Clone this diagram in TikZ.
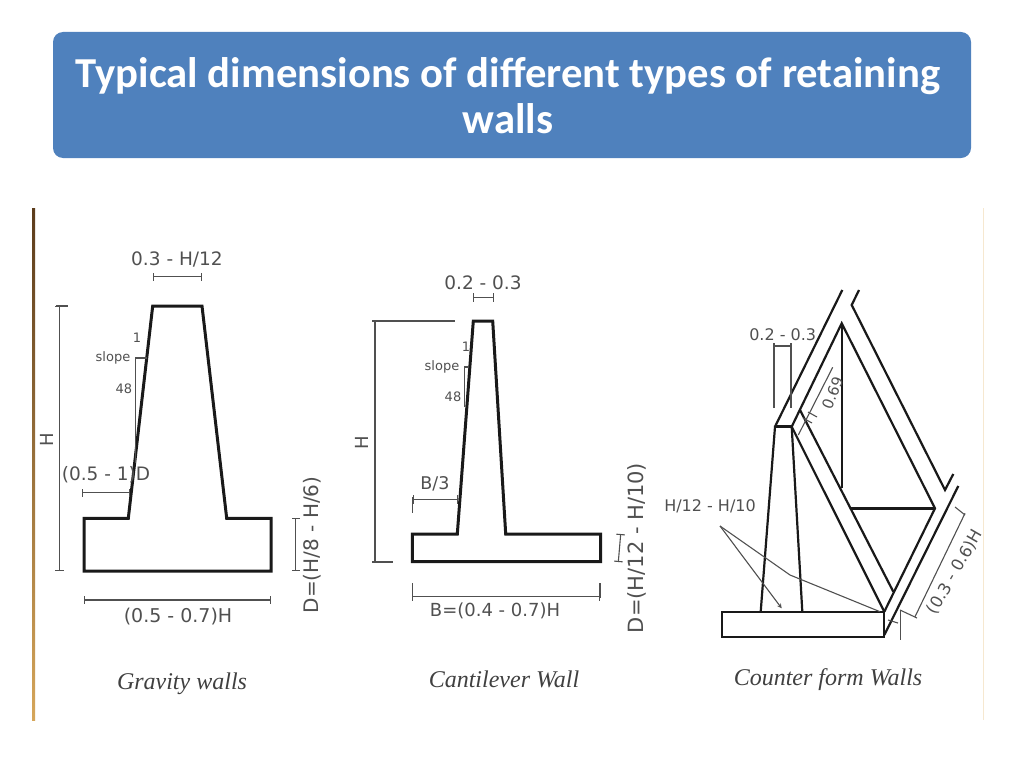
\documentclass[tikz,border=0pt]{standalone}
\usepackage{fontspec}
\setmainfont{DejaVu Sans}
\newfontfamily\titlefont{Carlito}
\newfontfamily\capfont{Liberation Serif}
\usepackage{tikz}
\definecolor{titleblue}{RGB}{79,129,189}
\definecolor{dimgray}{RGB}{80,80,80}
\definecolor{railtop}{RGB}{92,60,28}
\definecolor{railbot}{RGB}{214,166,90}
\definecolor{railright}{RGB}{246,232,208}

\newcommand{\dimsize}[1]{\fontsize{#1}{#1}\selectfont}

\tikzset{
	wall/.style={draw=black!90, line width=3pt, line join=miter},
	thinwall/.style={draw=black!90, line width=2.2pt},
	dimline/.style={draw=dimgray, line width=1.1pt},
	dimtip/.style={dimline, |-|},
	dimtext/.style={text=dimgray, font=\dimsize{18}, inner sep=0pt},
	smalltext/.style={text=dimgray, font=\dimsize{13}, inner sep=0pt},
	captext/.style={text=black!75, font=\capfont\itshape\dimsize{24}, inner sep=0pt},
}

\begin{document}
\begin{tikzpicture}[x=1pt, y=-1pt]
    \useasboundingbox (0,0) rectangle (1024,768);

    % title bar
    \node (titlebar) [fill=titleblue, rounded corners=10pt, minimum width=918pt, minimum height=126pt,
	inner sep=0pt] at (512,95) {};
    \node (titletext) [inner sep=0pt, text=white, align=center,
	font=\titlefont\bfseries\fontsize{42.7}{46}\selectfont]
	at (508,96) {Typical dimensions of different types of retaining\\walls};

    % side rules
    \shade[top color=railtop, bottom color=railbot] (32,208) rectangle (35,720);
    \fill[railright] (982.5,208) rectangle (984,720);

    % gravity wall
    \draw[wall] (152.7,306) -- (202,306) -- (226.7,518.3) -- (271,518.3) -- (271,571)
	-- (84,571) -- (84,518.3) -- (128.3,518.3) -- cycle;
    \draw[dimtip] (152.7,276.7) -- (202,276.7);
    \draw[dimtip] (59.3,306) -- (59.3,571);
    \draw[dimline] (56,306) -- (68,306);
    \draw[dimline] (135.3,463) -- (135.3,358) -- (146.7,358);
    \draw[dimtip] (82,492.7) -- (130,492.7);
    \draw[dimtip] (295.7,518.3) -- (295.7,571);
    \draw[dimtip] (84,600) -- (271,600);
    \node (grTop) [dimtext, font=\dimsize{18.5}] at (177,259) {0.3 - H/12};
    \node (grH) [dimtext, rotate=90] at (47,440) {H};
    \node (grOne) [smalltext] at (137,338) {1};
    \node (grSlope) [smalltext] at (113,358) {slope};
    \node (grFortyEight) [smalltext] at (124,389) {48};
    \node (grToe) [dimtext, font=\dimsize{18.5}] at (106,475) {(0.5 - 1)D};
    \node (grDepth) [dimtext, font=\dimsize{20}, rotate=90] at (312,545) {D=(H/8 - H/6)};
    \node (grBase) [dimtext, font=\dimsize{19}] at (178,617) {(0.5 - 0.7)H};
    \node (grCap) [captext] at (182,684) {Gravity walls};

    % cantilever wall
    \draw[wall] (473.3,321) -- (492.7,321) -- (505.7,534) -- (600.7,534) -- (600.7,561.7)
	-- (412.3,561.7) -- (412.3,534) -- (457.3,534) -- cycle;
    \draw[dimtip] (473.3,297.3) -- (494,297.3);
    \draw[dimline] (372,321) -- (455,321);
    \draw[dimline] (372,562) -- (393,562);
    \draw[dimline] (375,321) -- (375,562);
    \draw[dimline] (464.3,407) -- (464.3,367) -- (469,367);
    \draw[dimtip] (412.5,499.3) -- (458,499.3);
    \draw[dimline] (412.5,497) -- (412.5,513);
    \draw[dimtip] (620.7,534) -- (618.3,562);
    \draw[dimtip] (412,596.7) -- (600,596.7);
    \draw[dimline] (412.5,583) -- (412.5,598);
    \draw[dimline] (600,583) -- (600,598);
    \node (caTop) [dimtext, font=\dimsize{18.5}] at (483,283) {0.2 - 0.3};
    \node (caH) [dimtext, rotate=90] at (362,443) {H};
    \node (caOne) [smalltext] at (466,347) {1};
    \node (caSlope) [smalltext] at (442,367) {slope};
    \node (caFortyEight) [smalltext] at (453,397) {48};
    \node (caToe) [dimtext, font=\dimsize{17.5}] at (435,484) {B/3};
    \node (caDepth) [dimtext, font=\dimsize{21}, rotate=90] at (637,548) {D=(H/12 - H/10)};
    \node (caBase) [dimtext] at (495,611) {B=(0.4 - 0.7)H};
    \node (caCap) [captext] at (504,679) {Cantilever Wall};

    % counter form wall
    \draw[thinwall] (721.7,611.7) rectangle (884.3,637.3);
    \draw[thinwall] (760.7,611.7) -- (775,426.7) -- (791.7,426.7) -- (802.3,611.7);
    \draw[wall] (775,426.7) -- (791.7,426.7);
    \draw[thinwall] (775,426.7) -- (842.3,290);
    \draw[thinwall] (791.7,426.7) -- (841.7,323.3) -- (935,508.3) -- (884.3,611.7);
    \draw[thinwall] (859,290) -- (851.7,305) -- (945,490) -- (953.3,474);
    \draw[thinwall] (958.3,486) -- (884.3,635);
    \draw[thinwall] (791.7,426.7) -- (884.3,611.7);
    \draw[thinwall] (800,410) -- (893.3,591.7);
    \draw[thinwall] (842.3,323.3) -- (842.3,488.3);
    \draw[wall] (851,508.3) -- (935,508.3);
    \draw[dimline] (774,408) -- (774,346) -- (791,346) -- (791,408);
    \draw[dimline] (774,343) -- (774,349);
    \draw[dimline] (791,343) -- (791,349);
    \draw[dimline] (832.7,367.3) -- (798.3,435);
    \draw[dimline] (803,418) -- (812,423);
    \draw[dimline] (808,412) -- (817,417);
    \draw[dimline, -stealth] (720,526) -- (781.7,608.3);
    \draw[dimline] (720,526) -- (790,575) -- (880,611.7);
    \draw[dimline] (965,513.3) -- (915,616.7);
    \draw[dimline] (955,507) -- (965,515);
    \draw[dimline] (900,610) -- (917,618);
    \draw[dimline] (900.7,610) -- (900.7,640);
    \draw[dimline] (888,620) -- (898,623);
    \node (cfTop) [smalltext, font=\dimsize{16}] at (782.7,335) {0.2 - 0.3};
    \node (cfSeven) [smalltext, font=\dimsize{15}, rotate=68] at (832.5,393) {0.69};
    \node (cfLeader) [smalltext, font=\dimsize{16}] at (710,506.7) {H/12 - H/10};
    \node (cfLen) [dimtext, font=\dimsize{16.5}, rotate=60] at (955,572) {(0.3 - 0.6)H};
    \node (cfCap) [captext] at (828,680) {Counter form Walls};
\end{tikzpicture}
\end{document}
